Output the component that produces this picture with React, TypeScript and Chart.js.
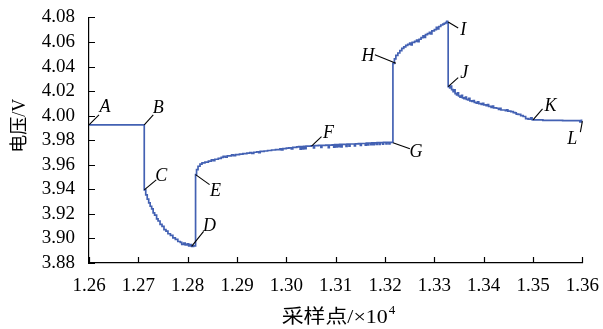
import { useEffect, useRef } from "react";
import { Chart, registerables } from "chart.js";

Chart.register(...registerables);

// Sample index (×10^4) and measured terminal voltage (V)
const sampleX: number[] = [
  1.26, 1.2712, 1.2712, 1.2715, 1.2718, 1.2721, 1.2724, 1.2727, 1.273, 1.2733,
  1.2737, 1.274, 1.2744, 1.2748, 1.2752, 1.2756, 1.276, 1.2765, 1.277, 1.2775,
  1.278, 1.2785, 1.2788, 1.2792, 1.2795, 1.2799, 1.2802, 1.2805, 1.2808, 1.2812,
  1.2816, 1.2816, 1.2818, 1.2821, 1.2825, 1.2829, 1.2835, 1.2842, 1.2848, 1.2852,
  1.2855, 1.2862, 1.2868, 1.2872, 1.2876, 1.288, 1.2889, 1.2893, 1.2897, 1.2905,
  1.2912, 1.292, 1.2926, 1.293, 1.2934, 1.294, 1.2944, 1.2947, 1.2955, 1.2962,
  1.297, 1.2978, 1.2987, 1.299, 1.2993, 1.3, 1.3005, 1.301, 1.3013, 1.3021,
  1.3025, 1.3028, 1.303, 1.3033, 1.3035, 1.3038, 1.304, 1.3045, 1.305, 1.3055,
  1.3057, 1.3065, 1.307, 1.3072, 1.308, 1.3085, 1.3087, 1.3093, 1.3096, 1.3098,
  1.3101, 1.3103, 1.3106, 1.3108, 1.3111, 1.3113, 1.3118, 1.3121, 1.3123, 1.3127,
  1.3129, 1.3134, 1.3138, 1.314, 1.3146, 1.315, 1.3152, 1.3157, 1.316, 1.3162,
  1.3165, 1.3167, 1.3171, 1.3173, 1.3176, 1.3178, 1.3182, 1.3184, 1.3188, 1.319,
  1.3195, 1.3197, 1.3202, 1.3204, 1.3208, 1.321, 1.3216, 1.3216, 1.3219, 1.3222,
  1.3226, 1.323, 1.3234, 1.3238, 1.3242, 1.3246, 1.325, 1.3253, 1.3255, 1.326,
  1.3264, 1.3267, 1.3269, 1.3273, 1.3277, 1.328, 1.3282, 1.3286, 1.329, 1.3293,
  1.3295, 1.33, 1.3304, 1.3307, 1.3309, 1.3313, 1.3317, 1.332, 1.3323, 1.3325,
  1.3327, 1.3328, 1.3328, 1.3331, 1.3333, 1.3335, 1.3338, 1.334, 1.3342, 1.3345,
  1.3347, 1.3349, 1.3352, 1.3355, 1.3357, 1.336, 1.3363, 1.3365, 1.3368, 1.337,
  1.3372, 1.3376, 1.3379, 1.3381, 1.3385, 1.3388, 1.339, 1.3395, 1.3398, 1.34,
  1.3405, 1.3408, 1.341, 1.3415, 1.3418, 1.342, 1.3426, 1.343, 1.3433, 1.3435,
  1.344, 1.3444, 1.3447, 1.3449, 1.3455, 1.346, 1.3464, 1.3466, 1.347, 1.3475,
  1.348, 1.3485, 1.349, 1.3495, 1.3498, 1.35, 1.352, 1.356, 1.359, 1.3595,
  1.3598, 1.36,
];

const voltage: number[] = [
  3.9925, 3.9925, 3.9395, 3.9355, 3.932, 3.929, 3.9262, 3.924, 3.9208, 3.919,
  3.916, 3.9142, 3.9115, 3.9098, 3.9072, 3.906, 3.9038, 3.9025, 3.9005, 3.8992,
  3.8975, 3.8968, 3.8952, 3.8962, 3.8948, 3.8955, 3.894, 3.895, 3.8935, 3.894,
  3.8945, 3.952, 3.956, 3.9588, 3.9605, 3.9615, 3.9622, 3.963, 3.964, 3.9634,
  3.9645, 3.9652, 3.966, 3.9668, 3.9662, 3.9672, 3.968, 3.9674, 3.9682, 3.9686,
  3.969, 3.9695, 3.97, 3.9693, 3.9702, 3.9706, 3.9698, 3.9709, 3.9712, 3.9716,
  3.972, 3.9724, 3.973, 3.9722, 3.9732, 3.9735, 3.9738, 3.973, 3.9742, 3.9745,
  3.9748, 3.9728, 3.9748, 3.973, 3.975, 3.9731, 3.9752, 3.9752, 3.9755, 3.9738,
  3.9756, 3.9758, 3.9742, 3.9758, 3.976, 3.974, 3.976, 3.9762, 3.9743, 3.9764,
  3.9745, 3.9765, 3.9748, 3.9766, 3.9745, 3.9766, 3.9766, 3.975, 3.9768, 3.9752,
  3.9769, 3.9769, 3.9754, 3.977, 3.9772, 3.9758, 3.9773, 3.9773, 3.976, 3.9776,
  3.9762, 3.9777, 3.9763, 3.9778, 3.9764, 3.9779, 3.9765, 3.978, 3.9766, 3.9781,
  3.9768, 3.9782, 3.9769, 3.9782, 3.977, 3.9783, 3.978, 4.0426, 4.0462, 4.049,
  4.051, 4.053, 4.0548, 4.056, 4.0572, 4.058, 4.059, 4.0576, 4.0596, 4.0605,
  4.0616, 4.0602, 4.0622, 4.0635, 4.065, 4.0638, 4.066, 4.0668, 4.0678, 4.0666,
  4.069, 4.07, 4.0718, 4.0706, 4.0726, 4.0738, 4.0745, 4.0752, 4.0758, 4.0768,
  4.0755, 4.0762, 4.0237, 4.0225, 4.024, 4.0212, 4.0195, 4.021, 4.018, 4.0168,
  4.0185, 4.016, 4.015, 4.0165, 4.0145, 4.0138, 4.015, 4.0132, 4.0128, 4.014,
  4.012, 4.0115, 4.0122, 4.0108, 4.0102, 4.0112, 4.0098, 4.0092, 4.01, 4.0088,
  4.0082, 4.009, 4.0076, 4.0068, 4.0078, 4.0064, 4.006, 4.005, 4.006, 4.0046,
  4.0046, 4.004, 4.0048, 4.0036, 4.0032, 4.0025, 4.0022, 4.0012, 4.001, 4.0,
  3.9993, 3.9975, 3.9972, 3.9982, 3.9968, 3.9966, 3.9962, 3.996, 3.996, 3.995,
  3.9962, 3.9955,
];

// Axis ranges and tick steps
const xRange = [1.26, 1.36];
const xStep = 0.01;
const yRange = [3.88, 4.08];
const yStep = 0.02;

// Characteristic points marked on the curve
const markLetters = ["A", "B", "C", "D", "E", "F", "G", "H", "I", "J", "K", "L"];
const markX = [1.26, 1.2712, 1.2712, 1.2808, 1.2816, 1.3051, 1.3216, 1.3222, 1.3328, 1.3328, 1.35, 1.36];
const markY = [3.9925, 3.9925, 3.9395, 3.8935, 3.952, 3.9752, 3.978, 4.0426, 4.0762, 4.0237, 3.9966, 3.9955];

// Leader-line end and letter centre, in pixels relative to the marked point
const leaderLayout: { lx: number; ly: number; tx: number; ty: number }[] = [
  { lx: 10, ly: -10, tx: 16, ty: -19 },
  { lx: 9, ly: -10, tx: 14, ty: -18 },
  { lx: 12, ly: -10, tx: 17, ty: -15 },
  { lx: 12, ly: -15, tx: 18, ty: -21 },
  { lx: 14, ly: 10, tx: 20, ty: 16 },
  { lx: 10, ly: -9.5, tx: 17, ty: -14 },
  { lx: 17, ly: 6, tx: 23, ty: 9 },
  { lx: -21, ly: -8.5, tx: -28, ty: -8 },
  { lx: 10, ly: 6, tx: 15, ty: 7.5 },
  { lx: 10, ly: -9, tx: 16, ty: -14 },
  { lx: 9.5, ly: -11, tx: 17.5, ty: -14.5 },
  { lx: -2, ly: 11, tx: -10, ty: 17 },
];

const SERIF = '"Liberation Serif", "Times New Roman", "Noto Sans CJK SC", serif';
const TICK_LEN = 6;

const decorPlugin = {
  id: "decor",
  afterDraw(chart: Chart) {
    const ctx = chart.ctx;
    const xs = chart.scales.x;
    const ys = chart.scales.y;
    const area = chart.chartArea;

    // inward tick marks
    ctx.save();
    ctx.strokeStyle = "#000";
    ctx.lineWidth = 1.2;
    ctx.beginPath();
    xs.ticks.forEach((t) => {
      const px = Math.round(xs.getPixelForValue(t.value)) + 0.5;
      ctx.moveTo(px, area.bottom);
      ctx.lineTo(px, area.bottom - TICK_LEN);
    });
    ys.ticks.forEach((t) => {
      const py = Math.round(ys.getPixelForValue(t.value)) + 0.5;
      ctx.moveTo(area.left, py);
      ctx.lineTo(area.left + TICK_LEN, py);
    });
    ctx.stroke();

    // point letters with leader lines
    ctx.lineWidth = 1.1;
    ctx.fillStyle = "#000";
    ctx.font = 'italic 18px "Liberation Serif", "Times New Roman", serif';
    ctx.textAlign = "center";
    ctx.textBaseline = "middle";
    markLetters.forEach((letter, i) => {
      const px = xs.getPixelForValue(markX[i]);
      const py = ys.getPixelForValue(markY[i]);
      const l = leaderLayout[i];
      ctx.beginPath();
      ctx.moveTo(px, py);
      ctx.lineTo(px + l.lx, py + l.ly);
      ctx.stroke();
      ctx.fillText(letter, px + l.tx, py + l.ty + 1);
    });

    // y-axis title
    ctx.save();
    ctx.translate(20, (area.top + area.bottom) / 2 - 14.5);
    ctx.rotate(-Math.PI / 2);
    ctx.font = "18px " + SERIF;
    ctx.textAlign = "center";
    ctx.textBaseline = "middle";
    ctx.fillText("电压/V", 0, 0);
    ctx.restore();

    // x-axis title with superscript
    const main = "采样点/×10";
    ctx.font = "19px " + SERIF;
    ctx.textAlign = "left";
    ctx.textBaseline = "alphabetic";
    const w = ctx.measureText(main).width;
    const target = 106;
    const left = (area.left + area.right) / 2 - 54;
    ctx.save();
    ctx.translate(left, 323);
    ctx.scale(target / w, 1);
    ctx.fillText(main, 0, 0);
    ctx.restore();
    ctx.font = "13px " + SERIF;
    ctx.fillText("4", left + target + 1, 314);
    ctx.restore();
  },
};

export default function App() {
  const canvasRef = useRef<HTMLCanvasElement | null>(null);

  useEffect(() => {
    if (!canvasRef.current) return;
    const points = sampleX.map((x, i) => ({ x, y: voltage[i] }));
    const tickFont = { family: SERIF, size: 19 };
    const chart = new Chart(canvasRef.current, {
      type: "line",
      data: {
        datasets: [
          {
            data: points,
            borderColor: "#4361b3",
            borderWidth: 1.7,
            pointRadius: 0,
            stepped: true,
            fill: false,
          },
        ],
      },
      options: {
        animation: false,
        responsive: false,
        devicePixelRatio: 1,
        layout: { padding: { top: 16, right: 20, left: 0, bottom: 0 } },
        plugins: {
          legend: { display: false },
          tooltip: { enabled: false },
        },
        scales: {
          x: {
            type: "linear",
            min: xRange[0],
            max: xRange[1],
            grid: { display: false },
            border: { display: true, color: "#000", width: 1.2 },
            ticks: {
              stepSize: xStep,
              autoSkip: false,
              color: "#000",
              font: tickFont,
              padding: 4,
              maxRotation: 0,
              callback: (v: number | string) => Number(v).toFixed(2),
            },
            afterFit: (scale: any) => {
              scale.height = 66;
            },
          },
          y: {
            type: "linear",
            min: yRange[0],
            max: yRange[1],
            grid: { display: false },
            border: { display: true, color: "#000", width: 1.2 },
            ticks: {
              stepSize: yStep,
              autoSkip: false,
              color: "#000",
              font: tickFont,
              padding: 6,
              callback: (v: number | string) => Number(v).toFixed(2),
            },
            afterFit: (scale: any) => {
              scale.width = 89;
            },
          },
        },
      },
      plugins: [decorPlugin],
    });
    return () => chart.destroy();
  }, []);

  return (
    <div style={{ position: "fixed", left: 0, top: 0, width: 603, height: 329, background: "#fff" }}>
      <canvas ref={canvasRef} width={603} height={329} />
    </div>
  );
}
